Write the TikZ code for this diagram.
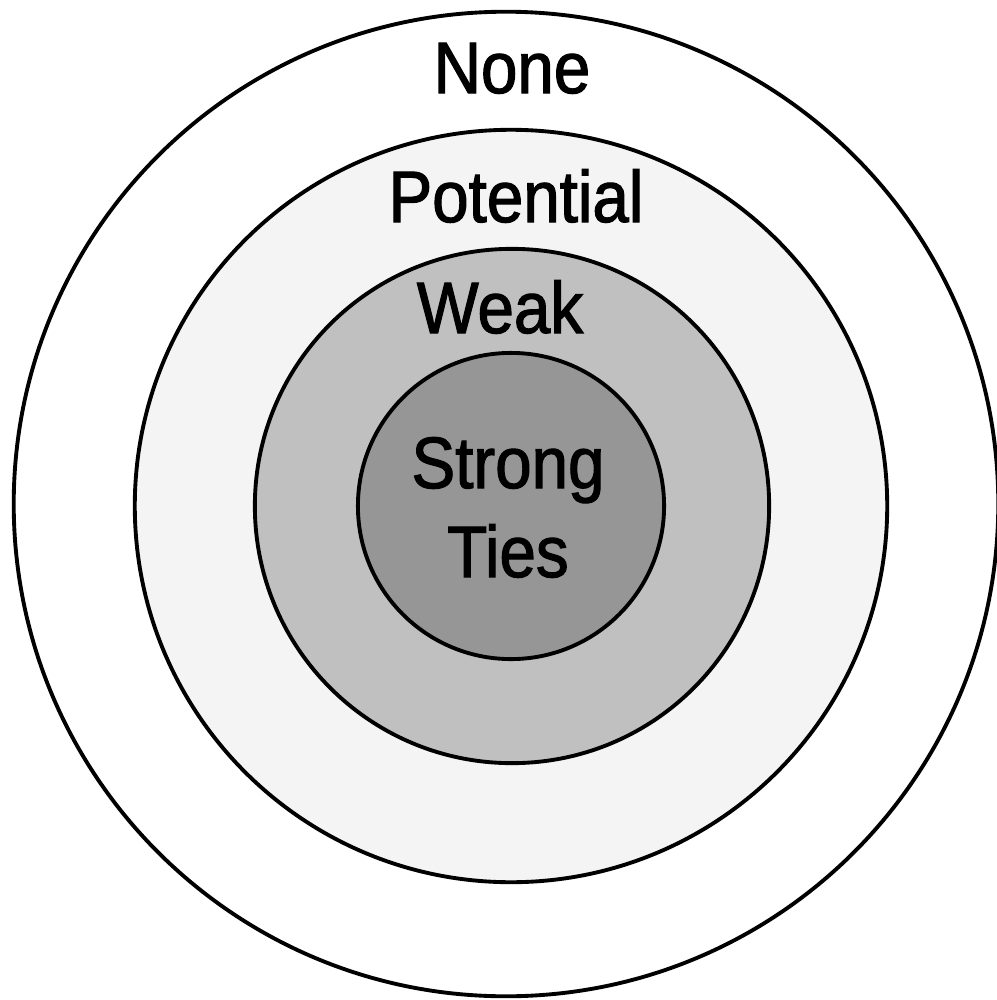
\documentclass[tikz,border=0pt]{standalone}
\usepackage{fontspec}
\setmainfont{Liberation Sans}[FakeStretch=0.9, FakeBold=1.6]
\usepackage{xcolor}
\usepackage{tikz}
\usetikzlibrary{positioning}
\definecolor{potentialgray}{RGB}{244,244,244}
\definecolor{weakgray}{RGB}{192,192,192}
\definecolor{stronggray}{RGB}{150,150,150}
\tikzstyle{ring} = [draw=black, line width=1.1pt]
\tikzstyle{tielabel} = [font=\fontsize{20.7}{25.3}\selectfont, text=black, inner sep=0pt, align=center, anchor=base]

\begin{document}
\begin{tikzpicture}[x=0.01cm, y=-0.01cm]
    \useasboundingbox (0,0) rectangle (997,1000);
    \fill [white] (0,0) rectangle (997,1000);
    % rings, outside in
    \draw [ring, fill=white] (506,504) circle [radius=4.92cm];
    \draw [ring, fill=potentialgray] (511,506) circle [radius=3.76cm];
    \draw [ring, fill=weakgray] (512,506) circle [radius=2.57cm];
    \draw [ring, fill=stronggray] (511,506) circle [radius=1.53cm];
    % labels
    \node (none) [tielabel] at (512,93) {None};
    \node (potential) [tielabel] at (516,222) {Potential};
    \node (weak) [tielabel] at (500,333) {Weak};
    \node (strong) [tielabel] at (508,577) {Strong\\Ties};
\end{tikzpicture}
\end{document}
